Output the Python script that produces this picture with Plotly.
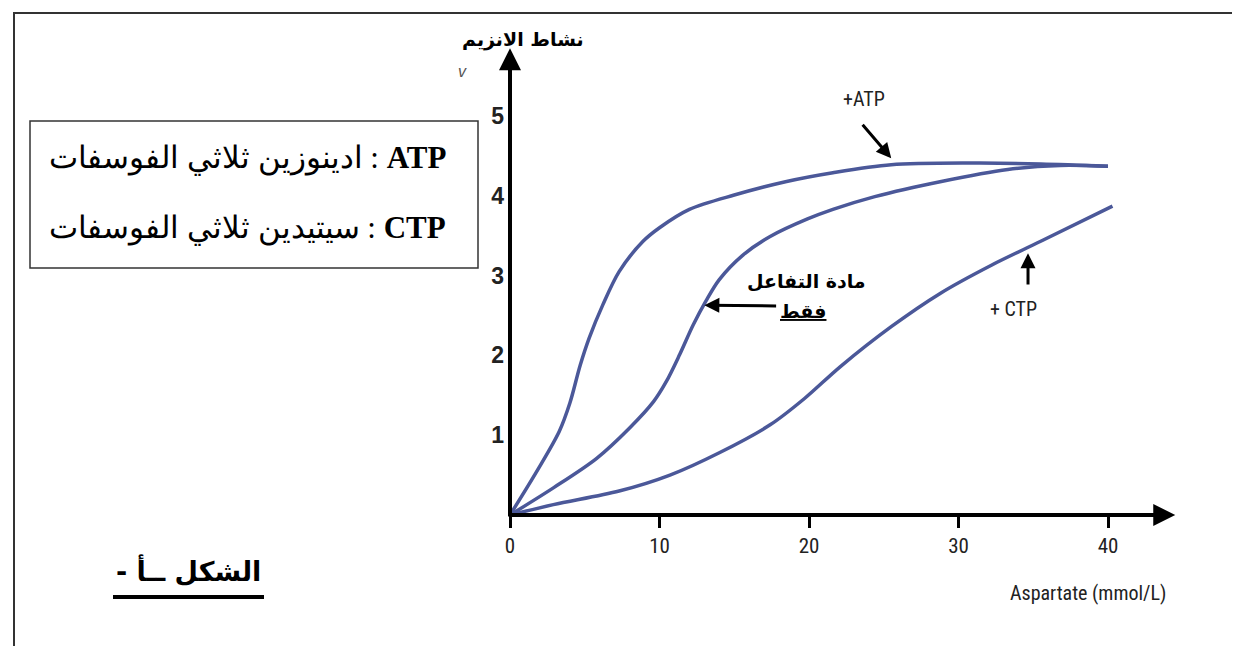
import plotly.graph_objects as go

# ---------------- data ----------------
x_atp = [0, 1.8, 3.3, 4.0, 4.7, 5.3, 6.2, 7.3, 8.9, 10, 12, 15, 18.5, 21.6, 25.5, 31, 35.5, 40]
y_atp = [0, 0.55, 1.05, 1.40, 1.88, 2.22, 2.63, 3.05, 3.43, 3.6, 3.83, 4.01, 4.18, 4.29, 4.39, 4.41, 4.40, 4.37]

x_sub = [0, 2.9, 5.8, 8.0, 9.6, 10.45, 11.35, 12.25, 13.1, 14.0, 15.6, 17.4, 19.9, 21.6, 24.4, 28.85, 33.3, 36.8, 40]
y_sub = [0, 0.34, 0.71, 1.09, 1.42, 1.67, 2.01, 2.38, 2.68, 2.95, 3.26, 3.49, 3.71, 3.83, 3.99, 4.18, 4.33, 4.38, 4.37]

x_ctp = [0, 2.9, 7.3, 10.7, 14.0, 17.4, 19.7, 22.1, 25.5, 28.8, 32.2, 35.5, 40.3]
y_ctp = [0, 0.13, 0.30, 0.50, 0.78, 1.13, 1.46, 1.86, 2.36, 2.78, 3.13, 3.43, 3.87]

x_ticks = [0, 10, 20, 30, 40]
x_tick_labels = ["0", "10", "20", "30", "40"]
y_ticks = [1, 2, 3, 4, 5]
y_tick_labels = ["1", "2", "3", "4", "5"]

x_title = "Aspartate (mmol/L)"
y_title = "نشاط الانزيم"
y_symbol = "v"
label_atp = "+ATP"
label_ctp = "+ CTP"
label_sub_1 = "مادة التفاعل"
label_sub_2 = "فقط"
legend_atp = "ادينوزين ثلاثي الفوسفات : <b>ATP</b>"
legend_ctp = "سيتيدين ثلاثي الفوسفات : <b>CTP</b>"
fig_label = "الشكل ــأ -\u200F"

# ---------------- layout helpers ----------------
W, H = 1240, 646
X0_PX, X_PER = 502, 14.95      # pixel of x=0, pixels per unit
Y0_PX, Y_PER = 507, 79.8       # pixel (from top) of y=0, pixels per unit
xr = [-X0_PX / X_PER, (W - X0_PX) / X_PER]
yr = [-(H - Y0_PX) / Y_PER, Y0_PX / Y_PER]

def px(x):
    return x / W

def py(y):
    return 1 - y / H

CURVE = "#4b5899"
AX_FONT = "Liberation Sans Narrow, Roboto Condensed, Arial Narrow, Liberation Sans, sans-serif"
AR_FONT = "DejaVu Sans, Noto Sans, sans-serif"

fig = go.Figure()
for xs, ys in [(x_atp, y_atp), (x_sub, y_sub), (x_ctp, y_ctp)]:
    fig.add_trace(go.Scatter(x=xs, y=ys, mode="lines",
                             line=dict(color=CURVE, width=3.5, shape="spline", smoothing=0.9),
                             hoverinfo="skip", showlegend=False))

def txt(x, y, text, font, xref="paper", yref="paper", xanchor="center"):
    return dict(x=x, y=y, xref=xref, yref=yref, text=text, showarrow=False,
                xanchor=xanchor, yanchor="middle", font=font)

def arrow(x, y, ax, ay, width=3, size=1.0):
    return dict(x=x, y=y, ax=ax, ay=ay, xref="x", yref="y", axref="x", ayref="y",
                showarrow=True, arrowhead=2, arrowsize=size, arrowwidth=width,
                arrowcolor="black", text="")

ann = []
# axes arrows
ann.append(arrow(44.5, 0, -0.2, 0, width=4, size=1.1))
ann.append(arrow(0, 5.85, 0, -0.03, width=4, size=1.1))
# curve labels with arrows
ann.append(arrow(25.5, 4.47, 23.5, 4.91))
ann.append(txt(23.7, 5.21, label_atp, dict(family=AX_FONT, size=20, color="#222"), "x", "y"))
ann.append(arrow(13.0, 2.63, 17.9, 2.62))
ann.append(txt(19.8, 2.93, "<b>" + label_sub_1 + "</b>", dict(family=AR_FONT, size=19, color="black"), "x", "y"))
ann.append(txt(19.6, 2.56, "<b><u>" + label_sub_2 + "</u></b>", dict(family=AR_FONT, size=19, color="black"), "x", "y"))
ann.append(arrow(34.65, 3.28, 34.65, 2.87))
ann.append(txt(33.7, 2.58, label_ctp, dict(family=AX_FONT, size=20, color="#222"), "x", "y"))
# axis titles
ann.append(txt(px(1160), py(585), x_title, dict(family=AX_FONT, size=20, color="#222"), xanchor="right"))
ann.append(txt(px(515), py(31), "<b>" + y_title + "</b>", dict(family=AR_FONT, size=19, color="black")))
ann.append(txt(px(454), py(63), "<i>" + y_symbol + "</i>",
               dict(family="Liberation Sans, sans-serif", size=16, color="#555")))
# legend box text
ann.append(txt(px(440), py(150), legend_atp,
               dict(family="Liberation Serif, DejaVu Serif, serif", size=31, color="black"), xanchor="right"))
ann.append(txt(px(440), py(220), legend_ctp,
               dict(family="Liberation Serif, DejaVu Serif, serif", size=31, color="black"), xanchor="right"))
# figure label
ann.append(txt(px(180), py(562), "<b>" + fig_label + "</b>", dict(family=AR_FONT, size=27, color="black")))

shapes = [
    dict(type="rect", xref="paper", yref="paper", x0=px(6), x1=px(1232), y0=-0.05, y1=py(5),
         line=dict(color="#333", width=2)),
    dict(type="rect", xref="paper", yref="paper", x0=px(22), x1=px(470), y0=py(260), y1=py(113),
         line=dict(color="#333", width=1.5)),
    dict(type="line", xref="paper", yref="paper", x0=px(105), x1=px(256), y0=py(589), y1=py(589),
         line=dict(color="black", width=4)),
]

fig.update_layout(
    width=W, height=H, margin=dict(l=0, r=0, t=0, b=0),
    paper_bgcolor="white", plot_bgcolor="white",
    annotations=ann, shapes=shapes, showlegend=False,
    xaxis=dict(range=xr, domain=[0, 1], anchor="free", position=py(Y0_PX),
               tickvals=x_ticks, ticktext=x_tick_labels, ticks="outside", ticklen=12, tickwidth=3,
               tickcolor="black", showline=False, showgrid=False, zeroline=False,
               tickfont=dict(family=AX_FONT, size=21, color="#222")),
    yaxis=dict(range=yr, domain=[0, 1], anchor="free", position=px(X0_PX),
               tickvals=y_ticks, ticktext=y_tick_labels, ticks="", showline=False, showgrid=False,
               zeroline=False, ticklabelstandoff=6,
               tickfont=dict(family="Liberation Sans, Arial, sans-serif", size=23, color="#222", weight="bold")),
)

fig.write_html("out.html")
